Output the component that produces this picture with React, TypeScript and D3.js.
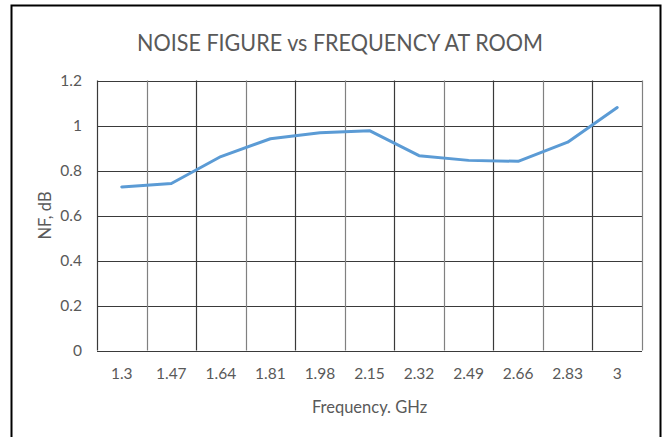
import React from "react";
import * as d3 from "d3";

const categories = ["1.3", "1.47", "1.64", "1.81", "1.98", "2.15", "2.32", "2.49", "2.66", "2.83", "3"];
const nfValues = [0.727, 0.742, 0.862, 0.941, 0.968, 0.977, 0.866, 0.845, 0.841, 0.926, 1.08];
const yTicks = [0, 0.2, 0.4, 0.6, 0.8, 1, 1.2];
const yTickLabels = ["0", "0.2", "0.4", "0.6", "0.8", "1", "1.2"];
const titleText = "NOISE FIGURE vs FREQUENCY AT ROOM";
const xTitle = "Frequency. GHz";
const yTitle = "NF, dB";

const W = 668;
const H = 437;
const plot = { left: 97, right: 642, top: 80.5, bottom: 350.5 };
const font = "Lato, 'Open Sans', sans-serif";
const textColor = "#595959";

export default function App() {
  const x = d3
    .scaleBand<string>()
    .domain(categories)
    .range([plot.left, plot.right])
    .paddingInner(0)
    .paddingOuter(0);
  const y = d3.scaleLinear().domain([0, 1.2]).range([plot.bottom, plot.top]);
  const cx = (c: string) => (x(c) as number) + x.bandwidth() / 2;

  const line = d3
    .line<number>()
    .x((_, i) => cx(categories[i]))
    .y((d) => y(d));

  const boundaries = categories.map((c) => x(c) as number).concat([plot.right]);

  return (
    <svg
      width={W}
      height={H}
      style={{ position: "absolute", left: 0, top: 0, display: "block", background: "#fff" }}
    >
      <rect x={0} y={0} width={W} height={H} fill="#fff" />
      {/* outer frame */}
      <rect x={11.5} y={5.5} width={649} height={440} fill="none" stroke="#000" strokeWidth={2} />
      <text
        x={340}
        y={50.5}
        textAnchor="middle"
        fontFamily={font}
        fontSize={23}
        textLength={406}
        lengthAdjust="spacingAndGlyphs"
        fill={textColor}
      >
        {titleText}
      </text>
      {/* horizontal gridlines */}
      {yTicks.map((t, i) => (
        <line
          key={"h" + i}
          x1={plot.left}
          x2={plot.right}
          y1={Math.round(y(t)) + 0.5}
          y2={Math.round(y(t)) + 0.5}
          stroke="#3a3a3a"
          strokeWidth={1.2}
        />
      ))}
      {/* vertical gridlines */}
      {boundaries.map((b, i) => (
        <line
          key={"v" + i}
          x1={Math.round(b) + 0.5}
          x2={Math.round(b) + 0.5}
          y1={plot.top}
          y2={plot.bottom}
          stroke={i % 2 === 0 ? "#3a3a3a" : "#808080"}
          strokeWidth={1.2}
        />
      ))}
      {/* y tick labels */}
      {yTicks.map((t, i) => (
        <text
          key={"yl" + i}
          x={82}
          y={y(t) + 5.5}
          textAnchor="end"
          fontFamily={font}
          fontSize={15.5}
          fill={textColor}
        >
          {yTickLabels[i]}
        </text>
      ))}
      {/* x tick labels */}
      {categories.map((c) => (
        <text
          key={"xl" + c}
          x={cx(c)}
          y={379}
          textAnchor="middle"
          fontFamily={font}
          fontSize={15.5}
          fill={textColor}
        >
          {c}
        </text>
      ))}
      <text
        x={(plot.left + plot.right) / 2}
        y={413}
        textAnchor="middle"
        fontFamily={font}
        fontSize={16.5}
        fill={textColor}
      >
        {xTitle}
      </text>
      <text
        transform={`translate(51, ${(plot.top + plot.bottom) / 2}) rotate(-90)`}
        textAnchor="middle"
        fontFamily={font}
        fontSize={16.5}
        fill={textColor}
      >
        {yTitle}
      </text>
      <path
        d={line(nfValues) || ""}
        fill="none"
        stroke="#5B9BD5"
        strokeWidth={3}
        strokeLinejoin="round"
        strokeLinecap="round"
      />
    </svg>
  );
}
